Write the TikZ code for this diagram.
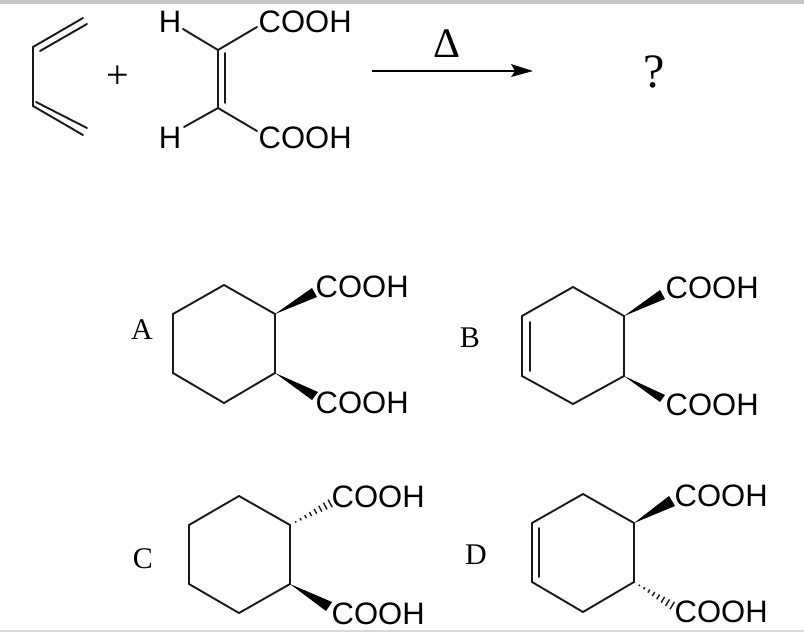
\documentclass[tikz,border=0pt]{standalone}
\usepackage{fontspec}
\setmainfont{Liberation Serif}
\newfontfamily\chemfont{Liberation Sans}
\usetikzlibrary{calc}
\newcommand{\hashbond}[2]{%
  \foreach \t/\w in {0.14/0.8,0.26/1.3,0.38/1.8,0.50/2.3,0.62/2.8,0.74/3.3,0.86/3.8,0.98/4.3}{
    \draw[hashline] ($(#1)!\t!(#2)!\w pt!90:(#2)$) -- ($(#1)!\t!(#2)!\w pt!-90:(#2)$);
  }}
\begin{document}
\begin{tikzpicture}[x=1pt,y=-1pt,
  bond/.style={line width=1.9pt,line join=miter,line cap=round,color=black!90},
  lbl/.style={font=\chemfont\fontsize{31}{31}\selectfont,inner sep=0pt,anchor=base west},
  hlbl/.style={font=\chemfont\fontsize{31}{31}\selectfont,inner sep=0pt,anchor=base},
  letter/.style={font=\fontsize{30}{30}\selectfont,inner sep=0pt,anchor=base},
  hashline/.style={line width=1.4pt,color=black!90}]
\useasboundingbox (0,0) rectangle (804,632);
\fill[white] (0,0) rectangle (804,632);
\fill[black!22] (0,0) rectangle (804,3.5);
\fill[black!15] (0,630) rectangle (804,632);
% butadiene
\coordinate (d1) at (83,18);
\coordinate (d2) at (33,47);
\coordinate (d3) at (33,106);
\coordinate (d4) at (83,135);
\draw[bond] (d1)--(d2)--(d3)--(d4);
\coordinate (d1i) at (87,24);
\coordinate (d2i) at (40,51);
\coordinate (d3i) at (36,102);
\coordinate (d4i) at (87,128);
\draw[bond] (d2i)--(d1i);
\draw[bond] (d3i)--(d4i);
\node[font=\fontsize{40}{40}\selectfont,inner sep=0pt] (plus) at (118,77) {+};
% maleic acid
\node[hlbl] (h1) at (170,32) {H};
\node[hlbl] (h2) at (170,148) {H};
\node[lbl] (c1) at (258.5,32) {COOH};
\node[lbl] (c2) at (258.5,148) {COOH};
\coordinate (m1) at (218,50);
\coordinate (m2) at (218,108);
\coordinate (e1) at (183,29);
\coordinate (e2) at (257,27);
\coordinate (e3) at (184,127);
\coordinate (e4) at (257,131);
\coordinate (mi1) at (225,53);
\coordinate (mi2) at (225,103);
\draw[bond] (e1)--(m1)--(e2);
\draw[bond] (m1)--(m2);
\draw[bond] (mi1)--(mi2);
\draw[bond] (e3)--(m2)--(e4);
% arrow
\coordinate (a1) at (372,71);
\coordinate (a2) at (533,71);
\coordinate (a3) at (515,71);
\draw[line width=1.5pt] (a1)--(a3);
\fill (a2)--(511,64)--(a3)--(511,77)--cycle;
\node[font=\fontsize{42}{42}\selectfont,inner sep=0pt,anchor=base] (delta) at (447,57) {Δ};
\node[font=\fontsize{48}{48}\selectfont,inner sep=0pt,anchor=base] (q) at (654,87) {?};
% A
\node[letter] (la) at (142,339) {A};
\draw[bond] (224,285)--(275,314)--(275,373)--(224,403)--(173,373)--(173,314)--cycle;
\fill (275,314)--(312,288)--(317,297)--cycle;
\fill (275,373)--(312,400)--(318,392)--cycle;
\node[lbl] (a1t) at (315.5,297) {COOH};
\node[lbl] (a2t) at (315.5,413) {COOH};
% B
\node[letter] (lb) at (470,347) {B};
\draw[bond] (573,287)--(624,316)--(624,376)--(573,404)--(522,376)--(522,316)--cycle;
\coordinate (bi1) at (530,322);
\coordinate (bi2) at (530,371);
\draw[bond] (bi1)--(bi2);
\fill (624,316)--(660,290)--(665,299)--cycle;
\fill (624,376)--(660,402)--(665,395)--cycle;
\node[lbl] (b1t) at (665.5,298) {COOH};
\node[lbl] (b2t) at (665.5,415) {COOH};
% C
\node[letter] (lc) at (143,568) {C};
\draw[bond] (239,496)--(290,525)--(290,584)--(239,613)--(189,584)--(189,525)--cycle;
\coordinate (cs) at (290,525);
\coordinate (ce) at (331,503);
\hashbond{cs}{ce}
\fill (290,584)--(332,602)--(326,611)--cycle;
\node[lbl] (c1t) at (331.5,507) {COOH};
\node[lbl] (c2t) at (331.5,624) {COOH};
% D
\node[letter] (ld) at (476,564) {D};
\draw[bond] (583,494)--(634,523)--(634,582)--(583,612)--(532,582)--(532,523)--cycle;
\coordinate (di1) at (539,528);
\coordinate (di2) at (539,577);
\draw[bond] (di1)--(di2);
\fill (634,523)--(669,496)--(675,506)--cycle;
\coordinate (ds) at (634,582);
\coordinate (de) at (673,606);
\hashbond{ds}{de}
\node[lbl] (d1t) at (674.5,506) {COOH};
\node[lbl] (d2t) at (674.5,622.5) {COOH};
\end{tikzpicture}
\end{document}
